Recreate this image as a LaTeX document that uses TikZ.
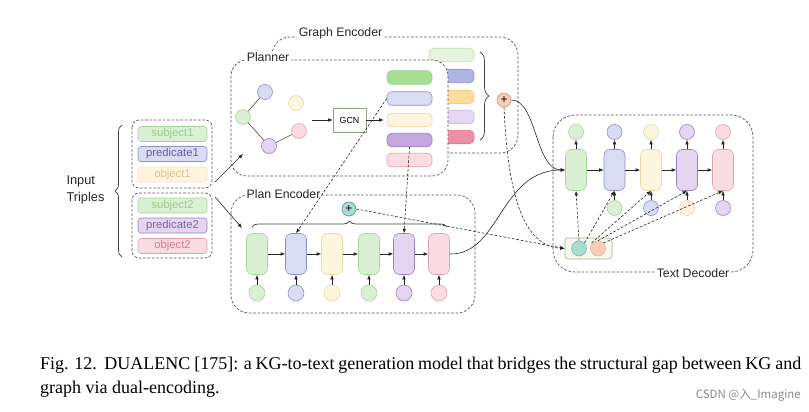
\documentclass[tikz,border=0pt]{standalone}
\usepackage{fontspec}
\setmainfont{Liberation Sans}
\newfontfamily\capfont{Liberation Serif}
\newfontfamily\cjk{Noto Sans CJK SC}
\usetikzlibrary{arrows.meta,decorations.pathreplacing,calc}
\definecolor{gF}{HTML}{DAF0D3}\definecolor{gD}{HTML}{A9D39E}
\definecolor{bF}{HTML}{D9DCF3}\definecolor{bD}{HTML}{8D93C9}
\definecolor{yF}{HTML}{FEF5DF}\definecolor{yD}{HTML}{EAD9A6}
\definecolor{pF}{HTML}{E4D6F0}\definecolor{pD}{HTML}{9C83C0}
\definecolor{kF}{HTML}{FADCE3}\definecolor{kD}{HTML}{E3A2B2}
\definecolor{dgray}{HTML}{555555}
\definecolor{tealF}{HTML}{A8DDD5}\definecolor{tealD}{HTML}{4C9A8E}
\definecolor{peachF}{HTML}{F7CDB5}\definecolor{peachD}{HTML}{D9957A}
\definecolor{e1F}{HTML}{E5F4DE}\definecolor{e1D}{HTML}{C4E2B8}
\definecolor{e2F}{HTML}{AFB5E2}\definecolor{e2D}{HTML}{8D93C9}
\definecolor{e3F}{HTML}{FBDC9C}\definecolor{e3D}{HTML}{EFCB80}
\definecolor{e4F}{HTML}{E5D8F2}\definecolor{e4D}{HTML}{C7B3E0}
\definecolor{e5F}{HTML}{EC8FA4}\definecolor{e5D}{HTML}{E07890}
\definecolor{b1F}{HTML}{A6DE94}\definecolor{b1D}{HTML}{9BCF8A}
\definecolor{b4F}{HTML}{C3A9E0}
\definecolor{t1}{HTML}{9DCB8E}\definecolor{t2}{HTML}{5D62A0}
\definecolor{t3}{HTML}{E0C48A}\definecolor{t5}{HTML}{7D62A8}
\definecolor{t6}{HTML}{D9788F}
\definecolor{cbF}{HTML}{F7FAF0}\definecolor{cbD}{HTML}{A8B090}
\begin{document}
\begin{tikzpicture}[x=1pt,y=-1pt,
  dbox/.style={draw=dgray, dash pattern=on 2.6pt off 1.8pt, line width=0.7pt},
  lbl/.style={fill=white, inner sep=1.5pt, font=\fontsize{12.3}{14}\selectfont, text=black!85},
  cell/.style={draw, rounded corners=6pt, minimum width=21pt, minimum height=41pt, inner sep=0pt, line width=0.6pt},
  circ/.style={draw, circle, minimum size=15pt, inner sep=0pt, line width=0.6pt},
  bar/.style={draw, rounded corners=4.5pt, minimum width=45pt, minimum height=13.5pt, inner sep=0pt, line width=0.6pt},
  tri/.style={draw, rounded corners=3pt, minimum width=69pt, minimum height=15pt, inner sep=0pt, font=\fontsize{11.3}{12}\selectfont, line width=0.6pt},
  arr/.style={-{Latex[length=4.5pt,width=3.6pt]}, line width=0.6pt, draw=black!85},
  darr/.style={arr, dash pattern=on 2.6pt off 1.8pt},
  colG/.style={fill=gF, draw=gD}, colB/.style={fill=bF, draw=bD},
  colY/.style={fill=yF, draw=yD}, colP/.style={fill=pF, draw=pD},
  colK/.style={fill=kF, draw=kD},
  plusnode/.style={circle, draw, minimum size=14pt, inner sep=0pt, line width=0.6pt, font=\fontsize{12}{12}\selectfont},
  brc/.style={decorate, line width=0.7pt, draw=black!75}
]
\fill[white] (0,0) rectangle (809,412);
\useasboundingbox (0,0) rectangle (809,412);

% ---------- Graph Encoder (behind) ----------
\draw[dbox, fill=white, rounded corners=18pt] (272,37) rectangle (518,153);
\node[lbl] (gelbl) at (340.5,33) {Graph Encoder};
\node[bar, fill=e1F, draw=e1D] (e1) at (451.5,55) {};
\node[bar, fill=e2F, draw=e2D] (e2) at (451.5,76) {};
\node[bar, fill=e3F, draw=e3D] (e3) at (451.5,97) {};
\node[bar, fill=e4F, draw=e4D] (e4) at (451.5,117) {};
\node[bar, fill=e5F, draw=e5D] (e5) at (451.5,137) {};
\draw[brc, decoration={brace, amplitude=9pt}] (480,52) -- (480,140);
\node[plusnode, fill=peachF, draw=peachD] (gplus) at (504,100) {+};

% ---------- Planner ----------
\draw[dbox, fill=white, rounded corners=16pt] (231,60) rectangle (448,176);
\node[lbl] (pllbl) at (268,57) {Planner};
\node[circ, colG] (g1) at (243,117) {};
\node[circ, colB] (g2) at (265,92) {};
\node[circ, colY] (g3) at (296,103) {};
\node[circ, colK] (g4) at (299,131) {};
\node[circ, colP] (g5) at (269,146) {};
\draw[line width=0.6pt, draw=black!70] (g1) -- (g2) (g1) -- (g5) (g5) -- (g4);
\node[draw=gD!80!black, fill=white, line width=0.6pt, minimum width=33pt, minimum height=24pt, inner sep=0pt, font=\fontsize{8.8}{10}\selectfont] (gcn) at (349.5,120) {GCN};
\coordinate (gin) at (312,120);
\draw[arr] (gin) -- (gcn.west);
\node[bar, fill=b1F, draw=b1D] (b1) at (409.5,77.5) {};
\node[bar, fill=bF, draw=bD] (b2) at (409.5,98.5) {};
\node[bar, fill=yF, draw=yD] (b3) at (409.5,120) {};
\node[bar, fill=b4F, draw=pD] (b4) at (409.5,140) {};
\node[bar, fill=kF, draw=kD] (b5) at (409.5,160) {};
\draw[arr] (gcn.east) -- ([xshift=-3pt]b3.west);

% ---------- Input triples ----------
\node[align=left, anchor=west, font=\fontsize{12.8}{16.5}\selectfont, text=black!85] (inp) at (63,190) {Input\\Triples};
\draw[brc, decoration={brace, amplitude=7pt}] (122,257) -- (122,125);
\draw[dbox, rounded corners=7pt] (132,120) rectangle (212,188);
\draw[dbox, rounded corners=7pt] (132,193) rectangle (212,258);
\node[tri, fill=gF, draw=gD, text=t1] (s1) at (172.5,134) {subject1};
\node[tri, fill=bF, draw=bD, text=t2] (r1) at (172.5,154) {predicate1};
\node[tri, fill=yF, draw=yD!70, text=t3] (o1) at (172.5,174.5) {object1};
\node[tri, fill=gF, draw=gD, text=t1] (s2) at (172.5,205.5) {subject2};
\node[tri, fill=pF, draw=pD, text=t5] (r2) at (172.5,225.5) {predicate2};
\node[tri, fill=kF, draw=kD, text=t6] (o2) at (172.5,246) {object2};
\coordinate (a1s) at (215,182); \coordinate (a1e) at (243,154);
\coordinate (a2s) at (215,197); \coordinate (a2e) at (242,228);
\draw[arr] (a1s) -- (a1e);
\draw[arr] (a2s) -- (a2e);

% ---------- Plan Encoder ----------
\draw[dbox, rounded corners=18pt] (231,195) rectangle (475,313);
\node[lbl] (pelbl) at (283.5,194) {Plan Encoder};
\foreach \i/\x/\c in {1/257/colG,2/296/colB,3/332/colY,4/369/colG,5/404/colP,6/439/colK}{
  \node[cell, \c] (p\i) at (\x,254) {};
  \node[circ, \c, minimum size=16pt] (q\i) at (\x,293) {};
  \draw[arr] (q\i.north) -- (p\i.south);
}
\foreach \i/\j in {1/2,2/3,3/4,4/5,5/6}{ \draw[arr] (p\i.east) -- (p\j.west); }
\draw[brc, decoration={brace, amplitude=6pt}] (252,227) -- (447,227);
\node[plusnode, fill=tealF, draw=tealD] (tplus) at (349,209) {+};

% ---------- Text Decoder ----------
\draw[dbox, rounded corners=22pt] (553,115) rectangle (753,272);
\node[lbl] (tdlbl) at (693,273) {Text Decoder};
\foreach \i/\x/\c in {1/576/colG,2/614.5/colB,3/651/colY,4/687/colP,5/723/colK}{
  \node[cell, \c] (d\i) at (\x,170) {};
  \node[circ, \c] (o\i) at (\x,132) {};
  \draw[arr] (d\i.north) -- (o\i.south);
}
\foreach \i/\j in {1/2,2/3,3/4,4/5}{ \draw[arr] (d\i.east) -- (d\j.west); }
\foreach \i/\x/\c in {2/614.5/colG,3/651/colB,4/687/colY,5/723/colP}{
  \node[circ, \c] (u\i) at (\x,208) {};
  \draw[arr] (u\i.north) -- (d\i.south);
}
\node[draw=cbD, fill=cbF, rounded corners=3pt, minimum width=47pt, minimum height=21pt, inner sep=0pt, line width=0.6pt] (cbox) at (588.5,248.5) {};
\node[circ, fill=tealF, draw=tealD!70] (ct) at (579,248.5) {};
\node[circ, fill=peachF, draw=peachD!70] (cp) at (598,248.5) {};
\draw[darr] (ct.north) -- (d1.south);
\draw[darr] (ct.north east) -- (d2.south);
\draw[darr] ([xshift=-1pt]cp.north west) -- (d3.south);
\draw[darr] (cp.north) -- (d4.south);
\draw[darr] (cp.north east) -- (d5.south);

% ---------- cross connectors ----------
\draw[darr] (b2.west) -- (p2.north);
\draw[darr] (b4.south) -- (p5.north);
\draw[darr] (tplus.east) -- (cbox.west);
\draw[darr] (gplus.south) .. controls (508,200) and (525,246) .. (cbox.west);
\draw[arr] (gplus.east) .. controls (537,100) and (535,170) .. (d1.west);
\draw[arr] (p6.east) .. controls (500,255) and (500,170) .. (d1.west);

% ---------- caption ----------
\node[anchor=west, inner sep=0pt, font=\capfont\fontsize{18}{21}\selectfont] (cap1) at (40,365)
  {\makebox[761pt][s]{Fig. 12.\ \ DUALENC [175]: a KG-to-text generation model that bridges the structural gap between KG and}};
\node[anchor=west, inner sep=0pt, font=\capfont\fontsize{18}{21}\selectfont] (cap2) at (40,389)
  {graph via dual-encoding.};
\node[anchor=east, inner sep=0pt, text=black!45, font=\cjk\fontsize{11.5}{13}\selectfont] (wm) at (801,395)
  {CSDN @入\_Imagine};
\end{tikzpicture}
\end{document}
